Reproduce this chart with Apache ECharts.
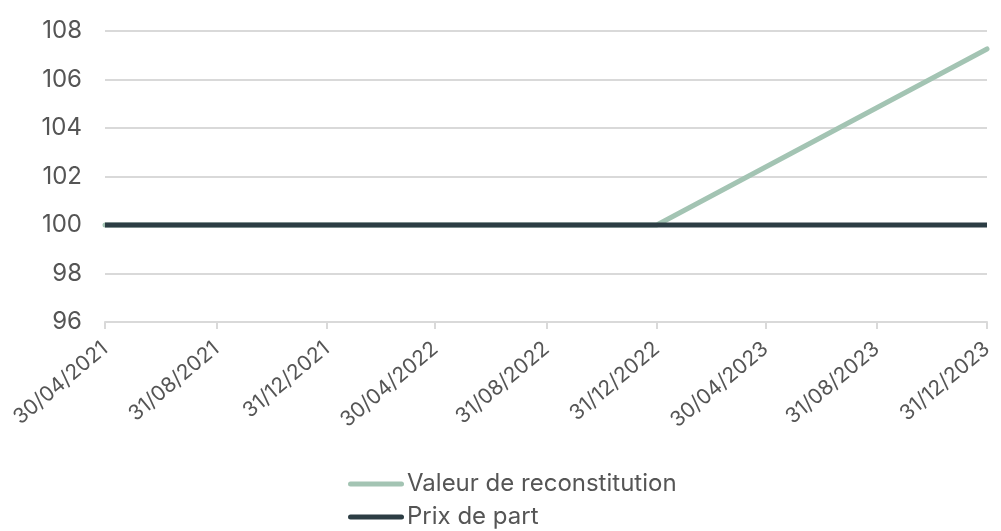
<!DOCTYPE html>
<html>
<head>
<meta charset="utf-8">
<script src="https://cdn.jsdelivr.net/npm/echarts@6/dist/echarts.min.js"></script>
<style>html,body{margin:0;padding:0;background:#fff}#c{width:1001px;height:531px}</style>
</head>
<body>
<div id="c"></div>
<script>
const dateTicks = ['2021-04-30','2021-08-31','2021-12-31','2022-04-30','2022-08-31','2022-12-31','2023-04-30','2023-08-31','2023-12-31'];
const valeurDates = ['2021-04-30','2022-12-31','2023-12-31'];
const valeurValues = [100, 100, 107.26];
const prixDates = ['2021-04-30','2023-12-31'];
const prixValues = [100, 100];
const seriesNames = ['Valeur de reconstitution','Prix de part'];

function ts(s){const p=s.split('-').map(Number);return Date.UTC(p[0],p[1]-1,p[2]);}
function fmt(v){const d=new Date(v);const p=n=>String(n).padStart(2,'0');return p(d.getUTCDate())+'/'+p(d.getUTCMonth()+1)+'/'+d.getUTCFullYear();}
const tickTs = dateTicks.map(ts);
const FONT = 'Inter';
const ICON = 'path://M2.5,0H53.5A2.5,2.5,0,0,1,53.5,5H2.5A2.5,2.5,0,0,1,2.5,0Z';

const chart = echarts.init(document.getElementById('c'));
chart.setOption({
  animation:false,
  textStyle:{fontFamily:FONT},
  grid:{left:105,right:14,top:31,bottom:209,containLabel:false,outerBoundsMode:'none'},
  legend:{
    orient:'vertical', left:348, top:472, padding:0,
    icon:ICON, itemWidth:56, itemHeight:5, itemGap:9,
    data:seriesNames.map(n=>({name:n,icon:ICON})),
    textStyle:{fontFamily:FONT,fontSize:24,lineHeight:24,color:'#555',padding:[0,0,0,-2]}
  },
  xAxis:{
    type:'value', min:tickTs[0], max:tickTs[tickTs.length-1],
    axisLine:{show:true,lineStyle:{color:'#d9d9d9',width:2}},
    axisTick:{show:true,length:7,lineStyle:{color:'#d9d9d9',width:2},customValues:tickTs},
    axisLabel:{customValues:tickTs,rotate:40,formatter:v=>fmt(v),fontSize:21,color:'#555',fontFamily:FONT,margin:24,hideOverlap:false,showMinLabel:true,showMaxLabel:true},
    splitLine:{show:false}
  },
  yAxis:{
    type:'value', min:96, max:108, interval:2,
    axisLine:{show:false}, axisTick:{show:false},
    axisLabel:{fontSize:24,color:'#555',fontFamily:FONT,margin:23},
    splitLine:{lineStyle:{color:'#d9d9d9',width:2}}
  },
  series:[
    {
      name:seriesNames[0], type:'line', symbol:'none',
      lineStyle:{color:'#a3c4b3',width:5,cap:'round'},
      itemStyle:{color:'#a3c4b3'},
      data:valeurDates.map((d,i)=>{
        const o={value:[ts(d),valeurValues[i]]};
        if(i===valeurDates.length-1){
          o.label={show:true,position:'top',align:'right',offset:[11,-10],
            formatter:p=>p.value[1].toFixed(2).replace('.',',')+' €',
            fontSize:22,color:'#333',fontFamily:FONT};
        }
        return o;
      }),
      z:2
    },
    {
      name:seriesNames[1], type:'line', symbol:'none',
      lineStyle:{color:'#2c3d44',width:5},
      itemStyle:{color:'#2c3d44'},
      data:prixDates.map((d,i)=>[ts(d),prixValues[i]]),
      z:3
    }
  ]
});
</script>
</body>
</html>
